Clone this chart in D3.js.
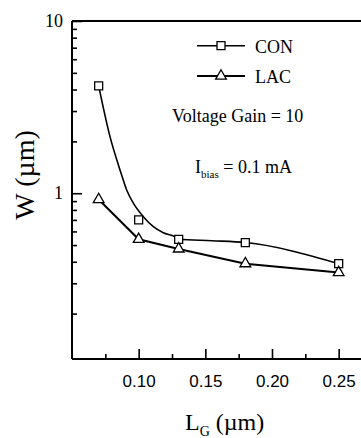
<!DOCTYPE html>
<html>
<head>
<meta charset="utf-8">
<script src="https://cdn.jsdelivr.net/npm/d3@7/dist/d3.min.js"></script>
<style>
  html, body { margin: 0; padding: 0; background: #fff; }
  svg { display: block; }
</style>
</head>
<body>
<svg id="chart" width="361" height="438"></svg>
<script>
// Gate length L_G (µm) at which each design was sized
const gateLengths = [0.07, 0.10, 0.13, 0.18, 0.25];
// Required width W (µm), conventional design
const conWidths = [4.2, 0.70, 0.54, 0.517, 0.39];
// Required width W (µm), LAC design
const lacWidths = [0.92, 0.54, 0.475, 0.39, 0.346];
// Trend curve drawn through the conventional results
const conTrendL = [0.07, 0.0785, 0.086, 0.091, 0.096, 0.1035, 0.111, 0.1185, 0.127, 0.13, 0.155, 0.18, 0.25];
const conTrendW = [4.2, 2.13, 1.366, 1.045, 0.875, 0.731, 0.64, 0.59, 0.56, 0.541, 0.53, 0.517, 0.39];
// Axis ticks
const xMajorTicks = [0.10, 0.15, 0.20, 0.25];
const xMinorTicks = [0.075, 0.125, 0.175, 0.225, 0.275];
const yLabelTicks = [1, 10];

const svg = d3.select("#chart");
svg.append("rect").attr("width", 361).attr("height", 438).attr("fill", "#fff");

const x = d3.scaleLinear().domain([0.05, 0.30]).range([72, 405.33]);
const y = d3.scaleLog().domain([0.109, 10]).range([359, 21]);

const serif = "'Liberation Serif', 'Times New Roman', serif";
const sans = "'Liberation Sans', Arial, sans-serif";

// Y axis: all decade subdivisions as inward ticks, labels on decades
const yAll = y.ticks().filter(v => v >= 0.109 && v <= 10);
const yAxis = d3.axisLeft(y)
  .tickValues(yAll)
  .tickSize(0)
  .tickFormat(() => "");
const gy = svg.append("g").attr("transform", "translate(72,0)").call(yAxis);
gy.select(".domain").remove();
gy.selectAll(".tick").each(function(d) {
  const major = yLabelTicks.includes(d);
  d3.select(this).select("line").attr("x2", major ? 10 : 5)
    .attr("stroke", "#000").attr("stroke-width", 1.6);
  if (major) {
    d3.select(this).select("text")
      .attr("x", -9).attr("dy", "0.32em")
      .attr("font-family", serif).attr("font-size", 18)
      .attr("fill", "#000").text(d3.format("d")(d));
  }
});

// X axis: major labelled ticks and minor ticks, pointing up into the plot
const xAxis = d3.axisBottom(x).tickValues(xMajorTicks).tickSize(-10).tickPadding(16)
  .tickFormat(d3.format(".2f"));
const gx = svg.append("g").attr("transform", "translate(0,359)").call(xAxis);
gx.select(".domain").remove();
gx.selectAll(".tick line").attr("stroke", "#000").attr("stroke-width", 1.6);
gx.selectAll(".tick text").attr("font-family", sans).attr("font-size", 17).attr("fill", "#000");
const gxm = svg.append("g").attr("transform", "translate(0,359)")
  .call(d3.axisBottom(x).tickValues(xMinorTicks).tickSize(-5).tickFormat(""));
gxm.select(".domain").remove();
gxm.selectAll(".tick line").attr("stroke", "#000").attr("stroke-width", 1.6);

// Frame lines: left, top, bottom
const frame = svg.append("g").attr("stroke", "#000").attr("stroke-width", 2).attr("fill", "none");
frame.append("line").attr("x1", x(0.05)).attr("x2", x(0.05)).attr("y1", y(10)).attr("y2", y(0.109));
frame.append("line").attr("x1", x(0.05)).attr("x2", x(0.30)).attr("y1", y(10)).attr("y2", y(10));
frame.append("line").attr("x1", x(0.05)).attr("x2", x(0.30)).attr("y1", y(0.109)).attr("y2", y(0.109));

// Series lines
const conLine = d3.line().curve(d3.curveMonotoneX)
  .x((d, i) => x(conTrendL[i])).y(d => y(d));
svg.append("path").attr("d", conLine(conTrendW))
  .attr("fill", "none").attr("stroke", "#000").attr("stroke-width", 1.6);

const lacLine = d3.line().x((d, i) => x(gateLengths[i])).y(d => y(d));
svg.append("path").attr("d", lacLine(lacWidths))
  .attr("fill", "none").attr("stroke", "#000").attr("stroke-width", 2);

// Markers
const square = d3.symbol().type(d3.symbolSquare).size(64);
const triangle = d3.symbol().type(d3.symbolTriangle).size(50);

svg.append("g").selectAll("path").data(conWidths).join("path")
  .attr("d", square)
  .attr("transform", (d, i) => `translate(${x(gateLengths[i])},${y(d)})`)
  .attr("fill", "#fff").attr("stroke", "#000").attr("stroke-width", 1.3);

svg.append("g").selectAll("path").data(lacWidths).join("path")
  .attr("d", triangle)
  .attr("transform", (d, i) => `translate(${x(gateLengths[i])},${y(d)})`)
  .attr("fill", "#fff").attr("stroke", "#000").attr("stroke-width", 1.3);

// Legend
const legend = svg.append("g");
const legendItems = [
  { name: "CON", sym: square, ly: 45.7, lw: 1.6 },
  { name: "LAC", sym: triangle, ly: 76, lw: 2 }
];
legendItems.forEach(it => {
  legend.append("line").attr("x1", 197).attr("x2", 245).attr("y1", it.ly).attr("y2", it.ly)
    .attr("stroke", "#000").attr("stroke-width", it.lw);
  legend.append("path").attr("d", it.sym).attr("transform", `translate(221,${it.ly})`)
    .attr("fill", "#fff").attr("stroke", "#000").attr("stroke-width", 1.3);
  legend.append("text").attr("x", 255).attr("y", it.ly + 7)
    .attr("font-family", serif).attr("font-size", 18).text(it.name);
});

// Annotations
svg.append("text").attr("x", 172).attr("y", 122)
  .attr("font-family", serif).attr("font-size", 18).text("Voltage Gain = 10");
const ib = svg.append("text").attr("x", 195).attr("y", 173)
  .attr("font-family", serif).attr("font-size", 18);
ib.append("tspan").text("I");
ib.append("tspan").attr("font-size", 11).attr("dy", 5).text("bias");
ib.append("tspan").attr("dy", -5).text(" = 0.1 mA");

// Axis titles
svg.append("text").attr("transform", "translate(34,175) rotate(-90)")
  .attr("text-anchor", "middle").attr("font-family", serif).attr("font-size", 28)
  .text("W (µm)");
const xt = svg.append("text").attr("x", 185).attr("y", 430)
  .attr("font-family", serif).attr("font-size", 24);
xt.append("tspan").text("L");
xt.append("tspan").attr("font-size", 14).attr("dy", 6).text("G");
xt.append("tspan").attr("dy", -6).text(" (µm)");
</script>
</body>
</html>
